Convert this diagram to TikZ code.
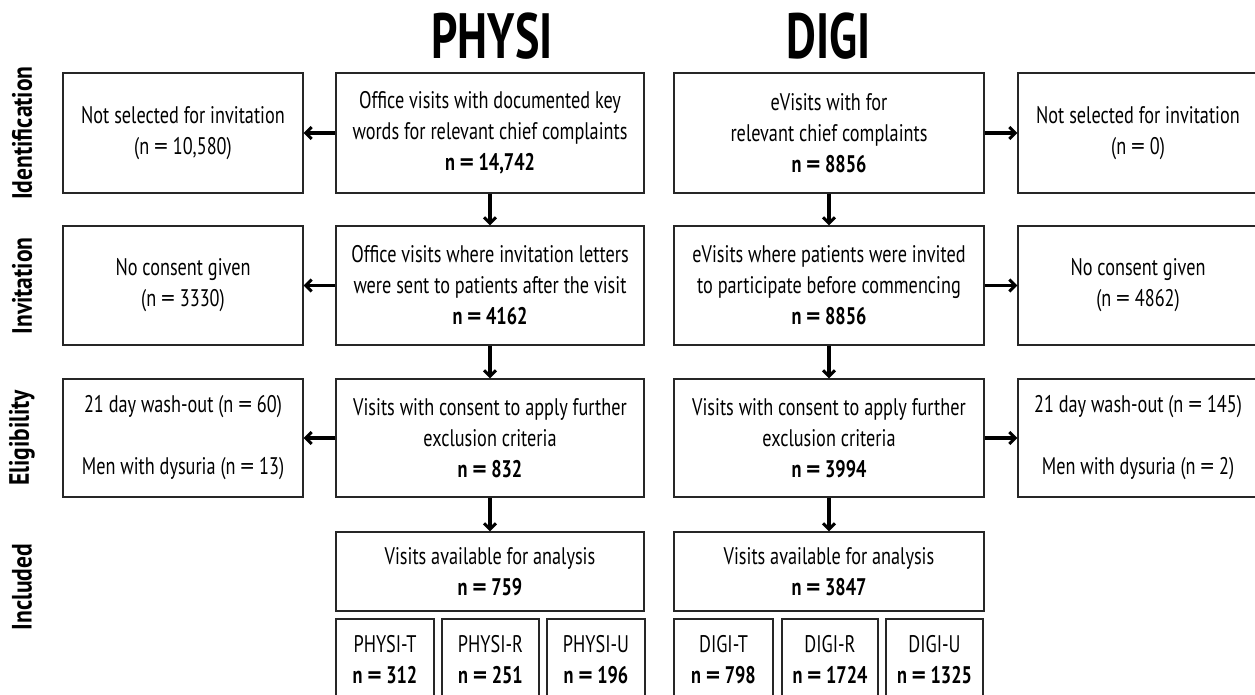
\documentclass[tikz,border=0pt]{standalone}
\usepackage{fontspec}
\usepackage{graphicx}
\setmainfont{PT Sans}[FakeStretch=0.76]
\newfontfamily\titlefont{PT Sans}[FakeStretch=0.72]
\newfontfamily\sidefont{PT Sans}[FakeStretch=0.84]
\newcommand{\myeq}{\scalebox{1.5}[1]{=}}
\usetikzlibrary{arrows.meta}
\begin{document}
\begin{tikzpicture}[x=1pt,y=-1pt,
  box/.style={draw=black!85, line width=1.1pt, rectangle, inner sep=0pt, align=center,
    font=\fontsize{24}{31}\selectfont},
  arr/.style={line width=3.4pt, -{Straight Barb[length=6pt,width=12pt,line width=3pt]}},
  side/.style={rotate=90, inner sep=0pt, font=\sidefont\fontsize{28}{30}\selectfont\bfseries},
  title/.style={inner sep=0pt, font=\titlefont\fontsize{64}{70}\selectfont\bfseries}]
\useasboundingbox (0,0) rectangle (1255,695);

% titles
\node[title] (t1) at (492,36) {PHYSI};
\node[title] (t2) at (829,36) {DIGI};

% side labels
\node[side] (s1) at (22,133) {Identification};
\node[side] (s2) at (22,286) {Invitation};
\node[side] (s3) at (22,438) {Eligibility};
\node[side] (s4) at (22,587) {Included};

% row 1
\node[box, minimum width=240pt, minimum height=120pt] (l1) at (183,133)
  {Not selected for invitation\\(n \myeq{} 10,580)};
\node[box, minimum width=308pt, minimum height=120pt] (p1) at (490,133)
  {Office visits with documented key\\words for relevant chief complaints\\\textbf{n \myeq{} 14,742}};
\node[box, minimum width=310pt, minimum height=120pt] (d1) at (829,133)
  {eVisits with for\\relevant chief complaints\\\textbf{n \myeq{} 8856}};
\node[box, minimum width=240pt, minimum height=120pt] (r1) at (1138,133)
  {Not selected for invitation\\(n \myeq{} 0)};

% row 2
\node[box, minimum width=240pt, minimum height=119pt] (l2) at (183,285.5)
  {No consent given\\(n \myeq{} 3330)};
\node[box, minimum width=308pt, minimum height=119pt] (p2) at (490,285.5)
  {Office visits where invitation letters\\were sent to patients after the visit\\\textbf{n \myeq{} 4162}};
\node[box, minimum width=310pt, minimum height=119pt] (d2) at (829,285.5)
  {eVisits where patients were invited\\to participate before commencing\\\textbf{n \myeq{} 8856}};
\node[box, minimum width=240pt, minimum height=119pt] (r2) at (1138,285.5)
  {No consent given\\(n \myeq{} 4862)};

% row 3
\node[box, minimum width=240pt, minimum height=118pt] (l3) at (183,438)
  {21 day wash-out (n \myeq{} 60)\\[31pt]Men with dysuria (n \myeq{} 13)};
\node[box, minimum width=308pt, minimum height=118pt] (p3) at (490,438)
  {Visits with consent to apply further\\exclusion criteria\\\textbf{n \myeq{} 832}};
\node[box, minimum width=310pt, minimum height=118pt] (d3) at (829,438)
  {Visits with consent to apply further\\exclusion criteria\\\textbf{n \myeq{} 3994}};
\node[box, minimum width=240pt, minimum height=118pt] (r3) at (1138,438)
  {21 day wash-out (n \myeq{} 145)\\[31pt]Men with dysuria (n \myeq{} 2)};

% row 4
\node[box, minimum width=308pt, minimum height=79pt] (p4) at (490,571.5)
  {Visits available for analysis\\\textbf{n \myeq{} 759}};
\node[box, minimum width=310pt, minimum height=79pt] (d4) at (829,571.5)
  {Visits available for analysis\\\textbf{n \myeq{} 3847}};

% row 5
\node[box, minimum width=98pt, minimum height=81pt] (pt) at (385,659.5) {PHYSI-T\\\textbf{n \myeq{} 312}};
\node[box, minimum width=97pt, minimum height=81pt] (pr) at (490.5,659.5) {PHYSI-R\\\textbf{n \myeq{} 251}};
\node[box, minimum width=98pt, minimum height=81pt] (pu) at (596,659.5) {PHYSI-U\\\textbf{n \myeq{} 196}};
\node[box, minimum width=99pt, minimum height=81pt] (dt) at (723.5,659.5) {DIGI-T\\\textbf{n \myeq{} 798}};
\node[box, minimum width=96pt, minimum height=81pt] (dr) at (830,659.5) {DIGI-R\\\textbf{n \myeq{} 1724}};
\node[box, minimum width=97pt, minimum height=81pt] (du) at (934.5,659.5) {DIGI-U\\\textbf{n \myeq{} 1325}};

% arrows
\draw[arr] (p1) -- (l1);
\draw[arr] (p2) -- (l2);
\draw[arr] (p3) -- (l3);
\draw[arr] (d1) -- (r1);
\draw[arr] (d2) -- (r2);
\draw[arr] (d3) -- (r3);
\draw[arr] (p1) -- (p2);
\draw[arr] (p2) -- (p3);
\draw[arr] (p3) -- (p4);
\draw[arr] (d1) -- (d2);
\draw[arr] (d2) -- (d3);
\draw[arr] (d3) -- (d4);
\end{tikzpicture}
\end{document}
